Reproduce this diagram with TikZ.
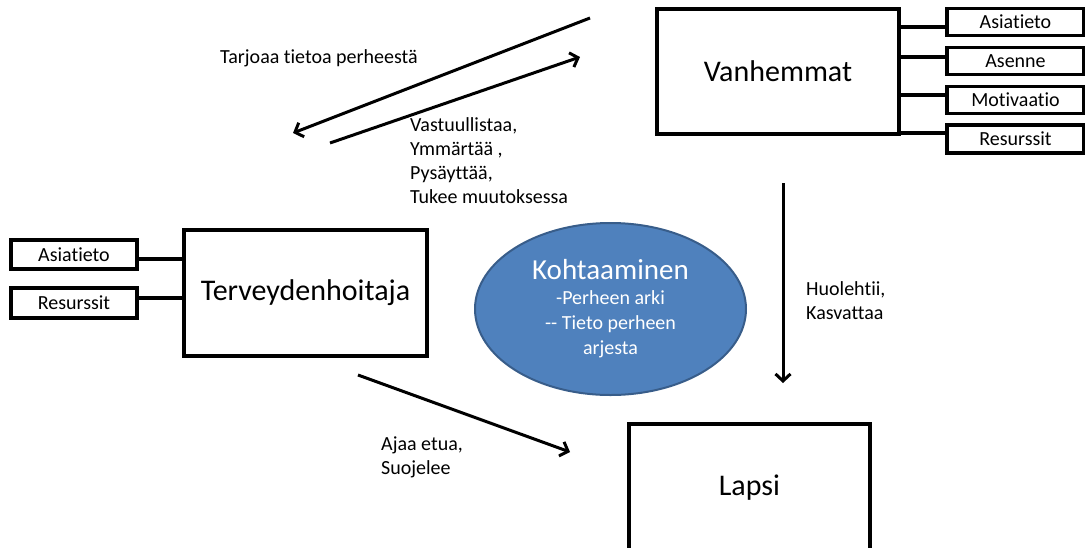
\documentclass[tikz,border=0pt]{standalone}
\usepackage{fontspec}
\setmainfont{Carlito}[Ligatures={NoCommon}]
\usetikzlibrary{arrows.meta,shapes.geometric}
\definecolor{kfill}{HTML}{4F81BD}
\definecolor{kborder}{HTML}{385D8A}
\begin{document}
\begin{tikzpicture}[x=1pt,y=-1pt,
  bigbox/.style={draw, line width=3.2pt, minimum width=242pt, minimum height=125pt, font=\fontsize{30}{36}\selectfont, inner sep=0pt},
  smallbox/.style={draw, line width=3.3pt, minimum height=27pt, font=\fontsize{20}{24}\selectfont, inner sep=0pt},
  link/.style={line width=3.2pt},
  arr/.style={line width=3pt, -{Straight Barb[length=7pt,width=15pt]}},
  lbl/.style={font=\fontsize{20}{24}\selectfont, align=left, anchor=north west, inner sep=0pt}]
\clip (0,0) rectangle (1085,547);

% Vanhemmat and its attributes
\node[bigbox] (V) at (778,71.5) {Vanhemmat};
\node[smallbox, minimum width=137pt] (v1) at (1015.5,22) {Asiatieto};
\node[smallbox, minimum width=137pt] (v2) at (1015.5,61) {Asenne};
\node[smallbox, minimum width=137pt] (v3) at (1015.5,100) {Motivaatio};
\node[smallbox, minimum width=137pt, minimum height=28pt] (v4) at (1015.5,139) {Resurssit};
\draw[link] ([yshift=-5pt]v1.west) -- ([yshift=-5pt]v1.west -| V.east);
\draw[link] ([yshift=4pt]v2.west) -- ([yshift=4pt]v2.west -| V.east);
\draw[link] ([yshift=5pt]v3.west) -- ([yshift=5pt]v3.west -| V.east);
\draw[link] ([yshift=6pt]v4.west) -- ([yshift=6pt]v4.west -| V.east);

% Terveydenhoitaja and its attributes
\node[bigbox, minimum width=243pt, minimum height=126pt] (T) at (305.5,293) {Terveydenhoitaja};
\node[smallbox, minimum width=126pt, minimum height=29pt] (t1) at (74,254.5) {Asiatieto};
\node[smallbox, minimum width=126pt, minimum height=30pt] (t2) at (74,303) {Resurssit};
\draw[link] ([yshift=-4.5pt]t1.east) -- ([yshift=-4.5pt]t1.east -| T.west);
\draw[link] ([yshift=5pt]t2.east) -- ([yshift=5pt]t2.east -| T.west);

% Lapsi
\node[bigbox, minimum width=241pt, minimum height=128pt] (L) at (749.5,488) {Lapsi};

% Kohtaaminen
\node[ellipse, draw=kborder, fill=kfill, line width=2pt, minimum width=271pt, minimum height=172pt] (K) at (610.5,309) {};
\node[align=center, text=white, font=\fontsize{20}{25}\selectfont, inner sep=0pt] (Kt) at (K.center) {{\fontsize{29}{34}\selectfont Kohtaaminen}\\-Perheen arki\\-{}- Tieto perheen\\arjesta};

% Arrows
\coordinate (a1s) at (590,18);
\coordinate (a1e) at (293,133);
\draw[arr] (a1s) -- (a1e);
\coordinate (a2s) at (330,143);
\coordinate (a2e) at (580,57);
\draw[arr] (a2s) -- (a2e);
\coordinate (a3s) at (783,183);
\coordinate (a3e) at (783,383);
\draw[arr] (a3s) -- (a3e);
\coordinate (a4s) at (358,375);
\coordinate (a4e) at (570,452);
\draw[arr] (a4s) -- (a4e);

% Labels
\node[lbl] (l1) at (220,49) {Tarjoaa tietoa perheestä};
\node[lbl] (l2) at (410,117) {Vastuullistaa,\\Ymmärtää ,\\Pysäyttää,\\Tukee muutoksessa};
\node[lbl] (l3) at (806,281) {Huolehtii,\\Kasvattaa};
\node[lbl] (l4) at (381,437) {Ajaa etua,\\Suojelee};
\end{tikzpicture}
\end{document}
